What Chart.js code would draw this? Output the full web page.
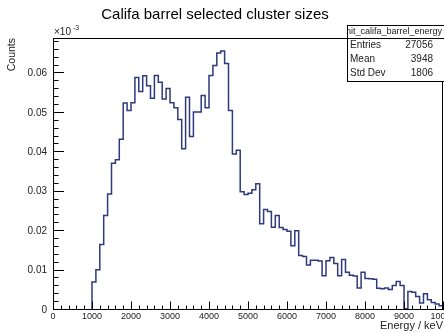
<!DOCTYPE html>
<html>
<head>
<meta charset="utf-8">
<title>Califa barrel selected cluster sizes</title>
<script src="https://cdn.jsdelivr.net/npm/chart.js@4.4.0/dist/chart.umd.min.js"></script>
<style>
  html, body { margin: 0; padding: 0; background: #fff; overflow: hidden; }
</style>
</head>
<body>
<canvas id="myChart" width="444" height="333"></canvas>
<script>
// energy bins: 100 keV wide, first filled bin starts at 1000 keV
var binStart = 1000;
var binWidth = 100;

// normalised counts per bin (axis is in units of 1e-3)
var counts = [
  0.0071, 0.0102, 0.0166, 0.0240, 0.0294, 0.0372, 0.0381, 0.0433, 0.0525, 0.0506,  // 1000-1900
  0.0526, 0.0590, 0.0554, 0.0594, 0.0569, 0.0537, 0.0595, 0.0578, 0.0535, 0.0562,  // 2000-2900
  0.0526, 0.0513, 0.0483, 0.0409, 0.0540, 0.0440, 0.0502, 0.0502, 0.0544, 0.0513,  // 3000-3900
  0.0595, 0.0620, 0.0652, 0.0657, 0.0625, 0.0506, 0.0396, 0.0405, 0.0300, 0.0293,  // 4000-4900
  0.0296, 0.0305, 0.0320, 0.0219, 0.0255, 0.0250, 0.0210, 0.0240, 0.0209, 0.0204,  // 5000-5900
  0.0200, 0.0163, 0.0201, 0.0138, 0.0136, 0.0114, 0.0126, 0.0126, 0.0124, 0.0087,  // 6000-6900
  0.0125, 0.0133, 0.0118, 0.0087, 0.0128, 0.0096, 0.0088, 0.0086, 0.0056, 0.0096,  // 7000-7900
  0.0080, 0.0079, 0.0078, 0.0055, 0.0054, 0.0056, 0.0052, 0.0062, 0.0072, 0.0062,  // 8000-8900
  0.0003, 0.0047, 0.0045, 0.0034, 0.0018, 0.0041, 0.0026, 0.0019, 0.0015, 0.0011   // 9000-9900
];

var xTicks = [0, 1000, 2000, 3000, 4000, 5000, 6000, 7000, 8000, 9000, 10000];
var yTicks = [0, 0.01, 0.02, 0.03, 0.04, 0.05, 0.06];
var xMax = 10000;
var yMax = 0.069;

var plotTitle = 'Califa barrel selected cluster sizes';
var statsTitle = 'hit_califa_barrel_energy';
var statsNames = ['Entries', 'Mean', 'Std Dev'];
var statsValues = ['27056', '3948', '1806'];

var fontFamily = "'Liberation Sans', Arial, Helvetica, sans-serif";

// step outline: baseline from 0, one point per low edge, closing point at the last high edge
var points = [{x: 0, y: 0}];
counts.forEach(function(c, i) {
  points.push({x: binStart + i * binWidth, y: c});
});
points.push({x: binStart + counts.length * binWidth, y: counts[counts.length - 1]});

// frame, inward ticks, title, exponent and stats box
var rootStyle = {
  id: 'rootStyle',
  afterDatasetsDraw: function(chart) {
    var ctx = chart.ctx, a = chart.chartArea;
    var xs = chart.scales.x, ys = chart.scales.y;
    ctx.save();
    ctx.strokeStyle = '#000';
    ctx.lineWidth = 1;
    ctx.strokeRect(a.left + 0.5, a.top + 0.5, a.right - a.left - 1, a.bottom - a.top - 1);

    ctx.beginPath();
    for (var i = 0; i * 0.002 <= ys.max; i++) {
      var py = Math.round(ys.getPixelForValue(i * 0.002)) - 0.5;
      var len = (i % 5 == 0) ? 11 : 5.5;
      ctx.moveTo(a.left, py);
      ctx.lineTo(a.left + len, py);
    }
    for (var j = 0; j * 200 <= xs.max; j++) {
      var px = Math.round(xs.getPixelForValue(j * 200)) + 0.5;
      var l2 = (j % 5 == 0) ? 8.5 : 4.5;
      ctx.moveTo(px, a.bottom);
      ctx.lineTo(px, a.bottom - l2);
    }
    ctx.stroke();
    ctx.restore();
  },
  afterDraw: function(chart) {
    var ctx = chart.ctx;
    ctx.save();
    ctx.fillStyle = '#000';
    ctx.textBaseline = 'middle';

    ctx.font = '15px ' + fontFamily;
    ctx.textAlign = 'center';
    ctx.fillText(plotTitle, 215, 15);

    ctx.fillStyle = '#222';
    ctx.textAlign = 'left';
    ctx.font = '10px ' + fontFamily;
    ctx.fillText('\u00d710', 54, 32);
    ctx.font = '7px ' + fontFamily;
    ctx.fillText('-3', 73, 28);

    // stats box
    var bx = 347, by = 25, bw = 100, bh = 56;
    ctx.fillStyle = '#fff';
    ctx.fillRect(bx, by, bw, bh);
    ctx.strokeStyle = '#000';
    ctx.lineWidth = 1;
    ctx.strokeRect(bx + 0.5, by + 0.5, bw, bh);
    ctx.beginPath();
    ctx.moveTo(bx, 38.5);
    ctx.lineTo(bx + bw, 38.5);
    ctx.stroke();

    ctx.save();
    ctx.beginPath();
    ctx.rect(bx + 1, by + 1, bw, 12);
    ctx.clip();
    ctx.fillStyle = '#222';
    ctx.font = '9px ' + fontFamily;
    ctx.textAlign = 'center';
    ctx.fillText(statsTitle, 394, 32);
    ctx.restore();

    ctx.fillStyle = '#222';
    ctx.font = '10px ' + fontFamily;
    for (var k = 0; k < statsNames.length; k++) {
      var ry = 45.5 + k * 14;
      ctx.textAlign = 'left';
      ctx.fillText(statsNames[k], 350, ry);
      ctx.textAlign = 'right';
      ctx.fillText(statsValues[k], 433, ry);
    }
    ctx.restore();
  }
};

const config = {
  type: 'line',
  data: {
    datasets: [{
      data: points,
      stepped: 'before',
      borderColor: '#2e3a7c',
      borderWidth: 1.5,
      borderJoinStyle: 'miter',
      pointRadius: 0,
      fill: false,
      tension: 0
    }]
  },
  options: {
    responsive: false,
    animation: false,
    devicePixelRatio: 1,
    layout: { padding: { left: 0, top: 38, right: 1, bottom: 0 } },
    plugins: {
      legend: { display: false },
      tooltip: { enabled: false },
      title: { display: false }
    },
    scales: {
      x: {
        type: 'linear',
        min: 0,
        max: xMax,
        afterBuildTicks: function(s) { s.ticks = xTicks.map(function(v) { return {value: v}; }); },
        afterFit: function(s) { s.height = 23; s.paddingLeft = 0; s.paddingRight = 0; },
        grid: { display: false, drawTicks: false },
        border: { display: false },
        ticks: {
          autoSkip: false,
          maxRotation: 0,
          padding: 1,
          color: '#222',
          font: { family: fontFamily, size: 9 },
          callback: function(v) { return String(v); }
        },
        title: {
          display: true,
          text: 'Energy / keV',
          align: 'end',
          padding: 0,
          color: '#222',
          font: { family: fontFamily, size: 11 }
        }
      },
      y: {
        type: 'linear',
        min: 0,
        max: yMax,
        afterBuildTicks: function(s) { s.ticks = yTicks.map(function(v) { return {value: v}; }); },
        afterFit: function(s) { s.width = 53; s.paddingTop = 0; s.paddingBottom = 0; },
        grid: { display: false, drawTicks: false },
        border: { display: false },
        ticks: {
          padding: 6,
          color: '#222',
          font: { family: fontFamily, size: 10 },
          callback: function(v) { return v == 0 ? '0' : v.toFixed(2); }
        },
        title: {
          display: true,
          text: 'Counts',
          align: 'end',
          padding: { top: 6, bottom: 0 },
          color: '#222',
          font: { family: fontFamily, size: 10.5 }
        }
      }
    }
  },
  plugins: [rootStyle]
};

const myChart = new Chart(document.getElementById('myChart'), config);
</script>
</body>
</html>
